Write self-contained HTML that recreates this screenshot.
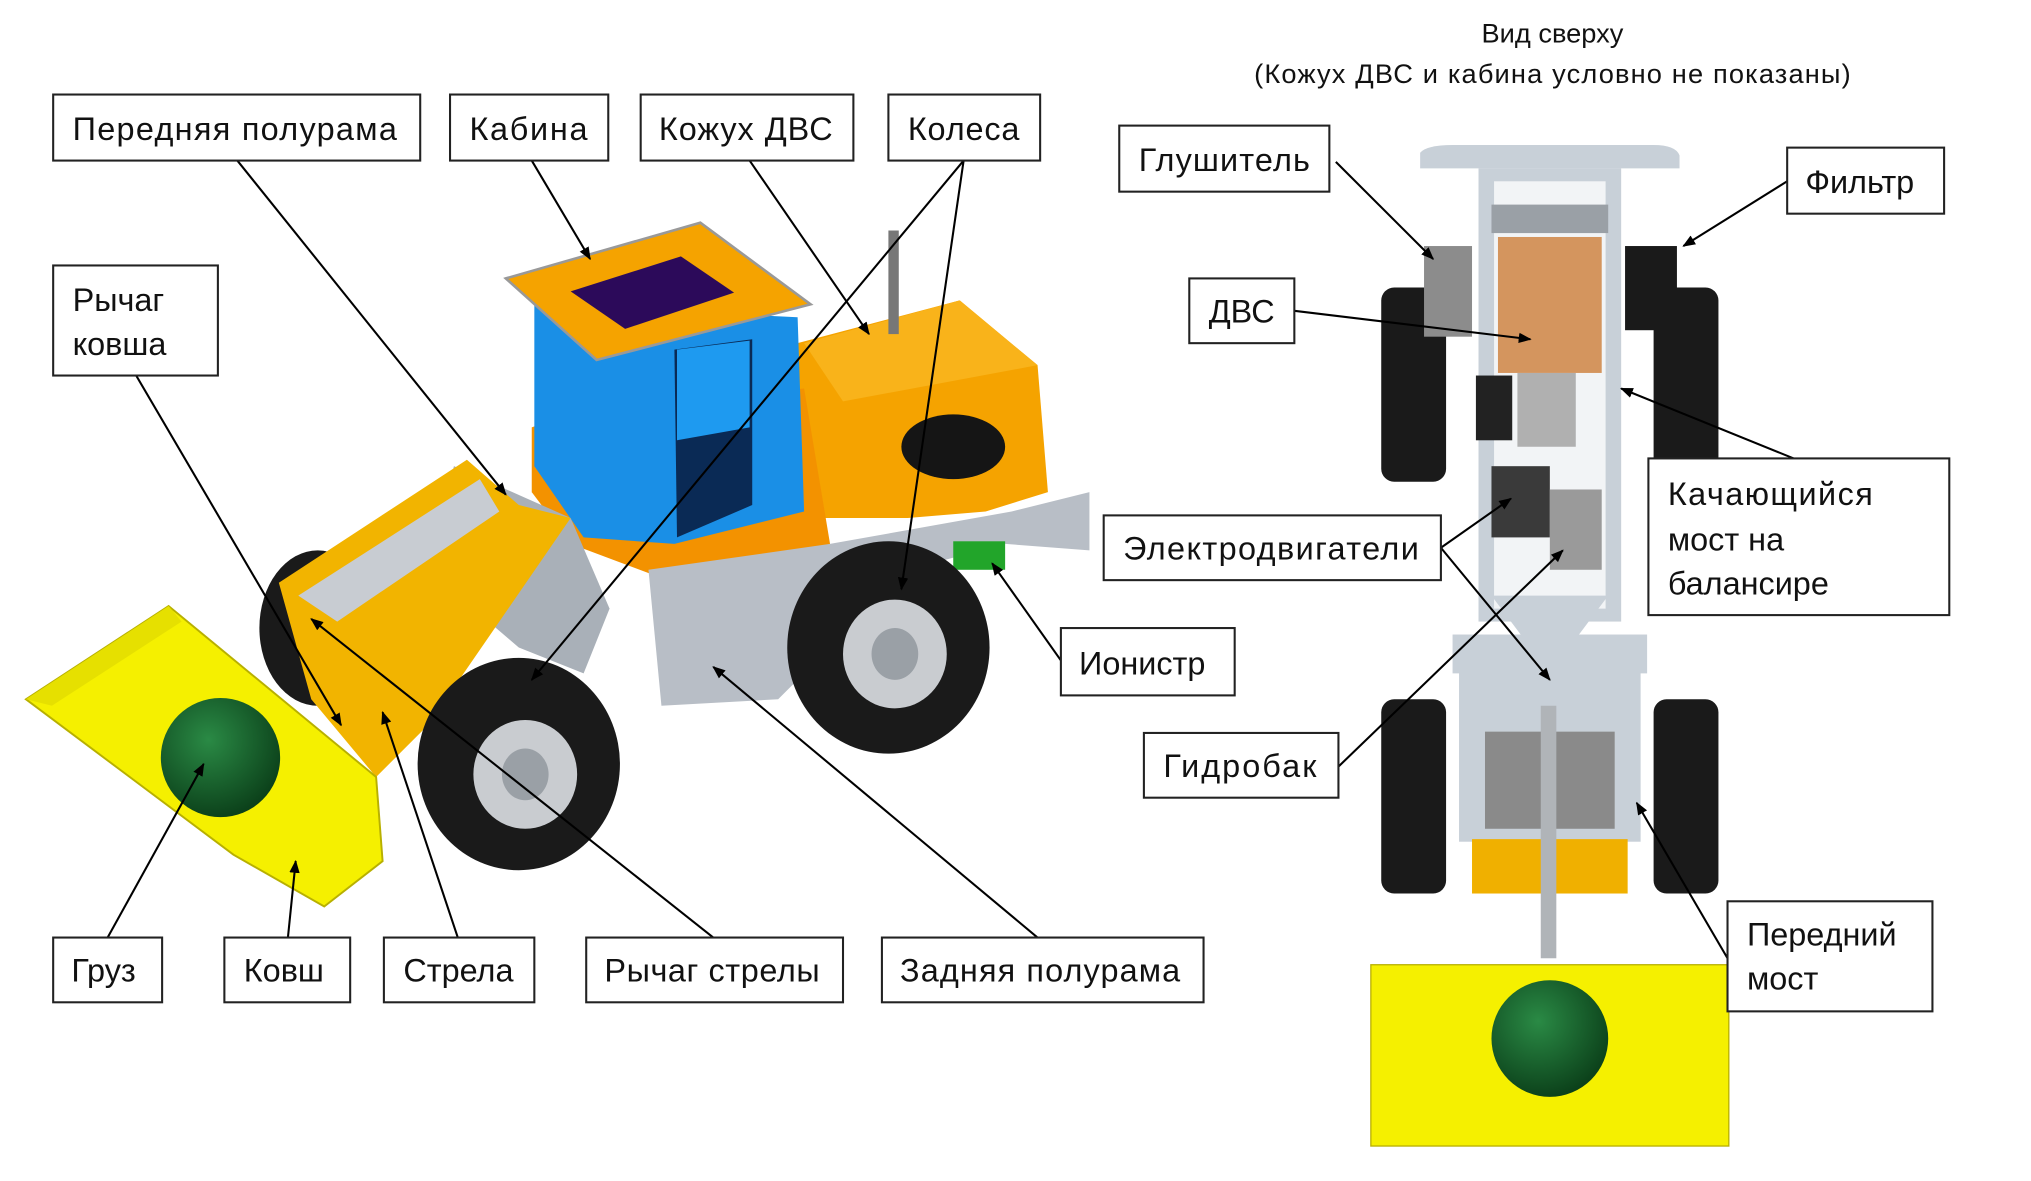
<!DOCTYPE html>
<html><head><meta charset="utf-8"><style>
html,body{margin:0;padding:0;background:#fff;}
svg{display:block;}
text{font-family:"Liberation Sans","DejaVu Sans",sans-serif;fill:#111;}
</style></head><body>
<svg width="2031" height="1181" viewBox="0 0 1566 912" preserveAspectRatio="none" xmlns="http://www.w3.org/2000/svg">
<defs>
<marker id="a" markerWidth="10" markerHeight="10" refX="9" refY="5" orient="auto" markerUnits="userSpaceOnUse"><path d="M0,1 L10,5 L0,9 z" fill="#000"/></marker>
<radialGradient id="g" cx="0.4" cy="0.35" r="0.7"><stop offset="0" stop-color="#2a8a45"/><stop offset="1" stop-color="#0a3d18"/></radialGradient>
</defs>
<rect width="1566" height="912" fill="#fff"/>

<ellipse cx="245" cy="485" rx="45" ry="60" fill="#1a1a1a"/>
<polygon points="615,265 740,232 800,282 808,380 760,395 700,400 615,400" fill="#f5a300"/>
<polygon points="410,330 450,315 620,300 640,420 600,440 520,450 440,420 410,380" fill="#f39200"/>
<polygon points="620,265 740,232 800,282 650,310" fill="#f9b31a"/>
<polygon points="412,235 615,245 620,395 520,420 450,415 412,360" fill="#1a8fe6"/>
<polygon points="520,270 580,262 580,390 522,415" fill="#0a2a55"/>
<polygon points="522,270 578,263 578,330 522,340" fill="#1e9af0"/>
<polygon points="390,215 540,172 625,235 460,278" fill="#f5a300" stroke="#999" stroke-width="2"/>
<polygon points="440,225 525,198 566,226 482,254" fill="#2c0a5a"/>
<rect x="685" y="178" width="8" height="80" fill="#777"/>
<polygon points="500,440 640,420 780,395 840,380 840,425 775,420 700,440 600,540 510,545" fill="#b8bec6"/>
<rect x="735" y="418" width="40" height="22" fill="#22a52a"/>
<ellipse cx="735" cy="345" rx="40" ry="25" fill="#151515"/>
<ellipse cx="685" cy="500" rx="78" ry="82" fill="#1a1a1a"/>
<ellipse cx="690" cy="505" rx="40" ry="42" fill="#c9ccd0"/>
<ellipse cx="690" cy="505" rx="18" ry="20" fill="#9aa0a6"/>
<polygon points="350,360 440,400 470,470 450,520 400,500 330,440" fill="#a9b0b8"/>
<polygon points="215,450 360,355 400,390 440,400 330,560 290,600 240,540" fill="#f2b400"/>
<polygon points="230,460 370,370 385,395 260,480" fill="#c8ccd2"/>
<ellipse cx="400" cy="590" rx="78" ry="82" fill="#1a1a1a"/>
<ellipse cx="405" cy="598" rx="40" ry="42" fill="#c9ccd0"/>
<ellipse cx="405" cy="598" rx="18" ry="20" fill="#9aa0a6"/>
<polygon points="20,540 130,468 290,600 295,665 250,700 180,660" fill="#f5f000" stroke="#b8b000" stroke-width="1.5"/>
<polygon points="20,540 130,468 140,480 40,545" fill="#e6e000"/>
<circle cx="170" cy="585" r="46" fill="url(#g)"/>

<path d="M1095,118 Q1100,112 1120,112 L1275,112 Q1292,112 1295,120 L1295,130 L1095,130 Z" fill="#c8d0d8"/>
<rect x="1140" y="130" width="110" height="350" fill="#c8d0d8"/>
<rect x="1152" y="140" width="86" height="330" fill="#f2f4f6"/>
<rect x="1150" y="158" width="90" height="22" fill="#9aa0a6"/>
<rect x="1120" y="490" width="150" height="30" fill="#c8d0d8"/>
<polygon points="1150,460 1240,460 1210,500 1180,500" fill="#c8d0d8"/>
<rect x="1065" y="222" width="50" height="150" rx="10" fill="#1a1a1a"/>
<rect x="1275" y="222" width="50" height="150" rx="10" fill="#1a1a1a"/>
<rect x="1065" y="540" width="50" height="150" rx="10" fill="#1a1a1a"/>
<rect x="1275" y="540" width="50" height="150" rx="10" fill="#1a1a1a"/>
<rect x="1155" y="183" width="80" height="105" fill="#d4955e"/>
<rect x="1098" y="190" width="37" height="70" fill="#8c8c8c"/>
<rect x="1253" y="190" width="40" height="65" fill="#1a1a1a"/>
<rect x="1170" y="288" width="45" height="57" fill="#b0b0b0"/>
<rect x="1138" y="290" width="28" height="50" fill="#222"/>
<rect x="1150" y="360" width="45" height="55" fill="#3a3a3a"/>
<rect x="1195" y="378" width="40" height="62" fill="#9a9a9a"/>
<rect x="1125" y="510" width="140" height="140" fill="#c8d0d8"/>
<rect x="1145" y="565" width="100" height="75" fill="#8a8a8a"/>
<rect x="1135" y="648" width="120" height="42" fill="#f0b000"/>
<rect x="1188" y="545" width="12" height="195" fill="#b0b4b8"/>
<rect x="1057" y="745" width="276" height="140" fill="#f5f000" stroke="#b8b000" stroke-width="1"/>
<circle cx="1195" cy="802" r="45" fill="url(#g)"/>

<g stroke="#000" stroke-width="1.6" fill="none" marker-end="url(#a)">
<line x1="183" y1="124" x2="390" y2="382"/>
<line x1="410" y1="124" x2="455" y2="200"/>
<line x1="578" y1="124" x2="670" y2="258"/>
<line x1="743" y1="124" x2="410" y2="525"/>
<line x1="743" y1="124" x2="695" y2="455"/>
<line x1="105" y1="290" x2="263" y2="560"/>
<line x1="83" y1="724" x2="157" y2="590"/>
<line x1="222" y1="724" x2="228" y2="665"/>
<line x1="353" y1="724" x2="295" y2="550"/>
<line x1="550" y1="724" x2="240" y2="478"/>
<line x1="800" y1="724" x2="550" y2="515"/>
<line x1="818" y1="510" x2="765" y2="435"/>
<line x1="1030" y1="125" x2="1105" y2="200"/>
<line x1="1378" y1="140" x2="1298" y2="190"/>
<line x1="998" y1="240" x2="1180" y2="262"/>
<line x1="1111" y1="423" x2="1165" y2="385"/>
<line x1="1111" y1="423" x2="1195" y2="525"/>
<line x1="1383" y1="354" x2="1250" y2="300"/>
<line x1="1032" y1="592" x2="1205" y2="425"/>
<line x1="1332" y1="740" x2="1262" y2="620"/>
</g>

<g fill="#fff" stroke="#222" stroke-width="1.6">
<rect x="41" y="73" width="283" height="51"/>
<rect x="347" y="73" width="122" height="51"/>
<rect x="494" y="73" width="164" height="51"/>
<rect x="685" y="73" width="117" height="51"/>
<rect x="41" y="205" width="127" height="85"/>
<rect x="41" y="724" width="84" height="50"/>
<rect x="173" y="724" width="97" height="50"/>
<rect x="296" y="724" width="116" height="50"/>
<rect x="452" y="724" width="198" height="50"/>
<rect x="680" y="724" width="248" height="50"/>
<rect x="818" y="485" width="134" height="52"/>
<rect x="863" y="97" width="162" height="51"/>
<rect x="1378" y="114" width="121" height="51"/>
<rect x="917" y="215" width="81" height="50"/>
<rect x="851" y="398" width="260" height="50"/>
<rect x="1271" y="354" width="232" height="121"/>
<rect x="882" y="566" width="150" height="50"/>
<rect x="1332" y="696" width="158" height="85"/>
</g>
<g font-size="25">
<text x="56" y="108" textLength="250">Передняя полурама</text>
<text x="362" y="108" textLength="91">Кабина</text>
<text x="508" y="108" textLength="134">Кожух ДВС</text>
<text x="700" y="108" textLength="86">Колеса</text>
<text x="56" y="240">Рычаг</text>
<text x="56" y="274">ковша</text>
<text x="55" y="758">Груз</text>
<text x="188" y="758">Ковш</text>
<text x="311" y="758">Стрела</text>
<text x="466" y="758" textLength="166">Рычаг стрелы</text>
<text x="694" y="758" textLength="216">Задняя полурама</text>
<text x="832" y="521">Ионистр</text>
<text x="878" y="132" textLength="132">Глушитель</text>
<text x="1392" y="149">Фильтр</text>
<text x="932" y="249">ДВС</text>
<text x="866" y="432" textLength="228">Электродвигатели</text>
<text x="1286" y="390" textLength="158">Качающийся</text>
<text x="1286" y="425">мост на</text>
<text x="1286" y="459">балансире</text>
<text x="897" y="600" textLength="118">Гидробак</text>
<text x="1347" y="730">Передний</text>
<text x="1347" y="764">мост</text>
</g>
<g font-size="21" text-anchor="middle">
<text x="1197" y="33">Вид сверху</text>
<text x="1197" y="64" textLength="460">(Кожух ДВС и кабина условно не показаны)</text>
</g>
</svg>
</body></html>
